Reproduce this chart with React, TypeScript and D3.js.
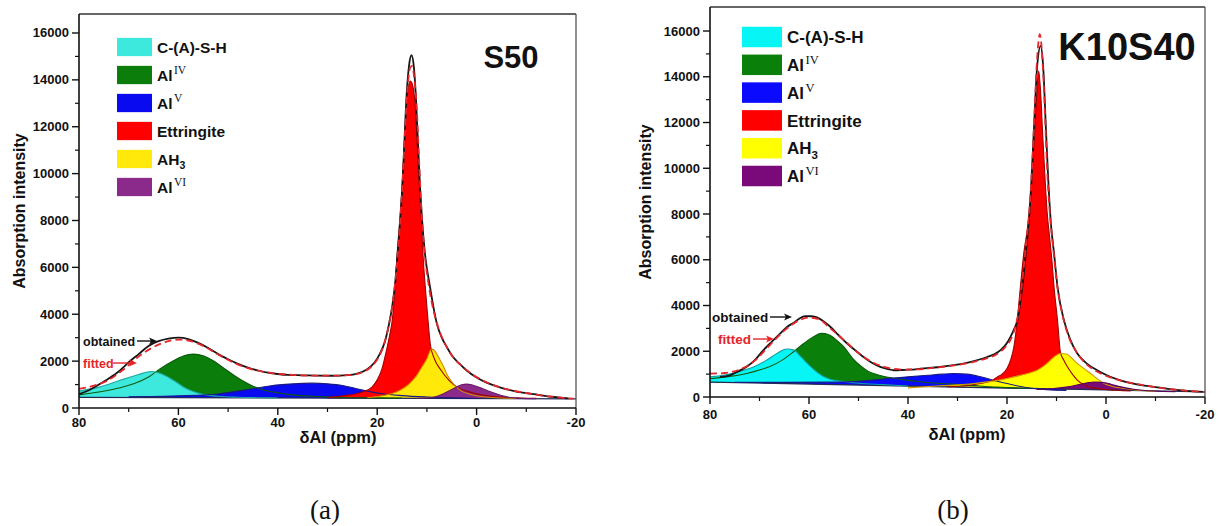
import React from 'react';
import * as d3 from 'd3';

type Pt = [number, number];

const xTicks = [80, 60, 40, 20, 0, -20];
const xMinor = [70, 50, 30, 10, -10];
const yTicks = [0, 2000, 4000, 6000, 8000, 10000, 12000, 14000, 16000];
const yMinor = [1000, 3000, 5000, 7000, 9000, 11000, 13000, 15000];
const legendNames = ['C-(A)-S-H', 'Al', 'Al', 'Ettringite', 'AH', 'Al'];
const legendSup = ['', 'IV', 'V', '', '', 'VI'];
const legendSub = ['', '', '', '', '3', ''];

// ---- S50 (a) : [ppm, intensity]
const s50Baseline: Pt[] = [[80, 450], [-20, 390]];
const s50CSH: Pt[] = [[80, 720], [76, 890], [72, 1160], [68, 1430], [65.5, 1560], [63, 1420], [61, 1180], [59, 900], [57, 700], [55, 580], [52, 500], [48, 460], [44, 440], [40, 426]];
const s50AlIV: Pt[] = [[80, 560], [76, 680], [72, 850], [69, 1030], [66, 1320], [63.5, 1700], [61, 2020], [59, 2220], [57, 2300], [55, 2230], [53, 2020], [51, 1720], [49, 1420], [47, 1150], [45, 930], [43, 780], [40, 650], [37, 560], [33, 500], [28, 460], [22, 430], [15, 420]];
const s50AlV: Pt[] = [[70, 480], [60, 520], [52, 600], [48, 720], [45, 820], [42, 930], [38.5, 1010], [35, 1050], [33, 1060], [30, 1030], [27, 960], [24.5, 840], [22, 720], [19, 610], [15, 530], [10, 470], [5, 430], [0, 405]];
const s50Ettringite: Pt[] = [[30, 450], [26, 540], [23, 680], [21, 900], [20, 1200], [19, 1700], [18.2, 2400], [17.5, 3100], [17, 3700], [16.4, 5100], [16, 6500], [15.4, 8000], [14.9, 9800], [14.6, 11000], [14.2, 12600], [13.8, 13600], [13.3, 13950], [12.8, 13700], [12.3, 12700], [11.9, 11000], [11.5, 9300], [11.1, 8000], [10.8, 6600], [10.3, 5100], [9.8, 3800], [9.3, 2700], [8.5, 2100], [7.3, 1650], [5.5, 1170], [4, 900], [2, 720], [-1.5, 540], [-6, 450], [-12, 410]];
const s50AH3: Pt[] = [[22, 440], [19, 520], [17, 620], [15.4, 760], [14, 950], [13, 1150], [12, 1400], [11, 1750], [10, 2100], [9.2, 2480], [8.8, 2500], [8, 2300], [7.3, 2030], [6.5, 1700], [6, 1450], [5, 1120], [4, 880], [3, 720], [1.5, 600], [0, 520], [-3, 450], [-8, 410]];
const s50AlVI: Pt[] = [[12, 410], [9, 450], [7, 580], [5.5, 740], [4, 900], [3, 990], [2, 1020], [1, 990], [-0.5, 880], [-2, 760], [-3.5, 640], [-5, 530], [-6.5, 460], [-9, 410], [-12, 398]];
const s50Obtained: Pt[] = [[80, 590], [78, 760], [76, 1000], [74, 1260], [72, 1560], [70, 1950], [68, 2300], [66, 2650], [64, 2850], [62, 2960], [60, 3000], [58, 2940], [56, 2780], [54, 2560], [52, 2300], [50, 2080], [48, 1880], [46, 1720], [44, 1600], [42, 1510], [40, 1450], [38, 1410], [35, 1395], [32, 1380], [29, 1375], [26, 1400], [24, 1470], [22, 1650], [20.5, 1950], [19.5, 2300], [18.5, 2800], [17.7, 3500], [17, 4300], [16.4, 5300], [16, 6300], [15.4, 8000], [15, 9200], [14.6, 11000], [14.1, 13300], [13.6, 14600], [13.1, 15050], [12.6, 14500], [12.2, 13200], [11.8, 11300], [11.4, 9500], [11, 8100], [10.4, 6600], [9.4, 5200], [8.5, 4100], [8, 3600], [7, 3000], [6, 2600], [5, 2250], [3.5, 1900], [2, 1600], [0, 1300], [-2, 1080], [-5, 860], [-8, 700], [-11.5, 590], [-15, 480], [-18.5, 410]];
const s50Fitted: Pt[] = [[80, 820], [77, 950], [74, 1200], [71, 1650], [68, 2200], [65, 2600], [62, 2850], [60, 2920], [58, 2880], [55, 2650], [52, 2280], [49, 1950], [46, 1700], [43, 1550], [40, 1460], [36, 1400], [32, 1380], [28, 1380], [25, 1420], [23, 1520], [21, 1800], [19.5, 2250], [18.5, 2800], [17.7, 3500], [17, 4300], [16.4, 5300], [15.9, 6400], [15.4, 7900], [14.9, 9600], [14.4, 11800], [13.9, 13600], [13.4, 14500], [13, 14600], [12.5, 14000], [12, 12600], [11.6, 10700], [11.1, 8400], [10.5, 6700], [9.6, 5200], [8.6, 4100], [7.5, 3300], [6, 2600], [4.5, 2100], [3, 1800], [1, 1450], [-1, 1200], [-4, 930], [-7, 760], [-10, 640], [-14, 510], [-18, 420], [-19.5, 400]];

// ---- K10S40 (b)
const k10Baseline: Pt[] = [[80, 650], [-20, 220]];
const k10CSH: Pt[] = [[80, 880], [77, 960], [74, 1120], [71, 1330], [68.5, 1620], [66.5, 1900], [64.5, 2100], [63, 2050], [61.8, 1800], [60.5, 1500], [59, 1200], [57.5, 950], [56, 800], [53, 680], [50, 600], [45, 540], [40, 480]];
const k10AlIV: Pt[] = [[80, 800], [76, 900], [72.6, 1030], [70, 1180], [67.9, 1330], [65.5, 1600], [63.1, 1980], [61, 2350], [59, 2650], [57.5, 2780], [56, 2720], [54.5, 2500], [53, 2200], [51, 1650], [49.5, 1350], [48, 1120], [46, 960], [44, 860], [41, 760], [38, 680], [34, 600], [28, 520], [22, 430], [15, 370]];
const k10AlV: Pt[] = [[75, 640], [65, 640], [55, 650], [50, 690], [46, 760], [43, 830], [40, 880], [36, 950], [33, 1000], [30.8, 1026], [28, 1000], [26, 920], [24, 810], [22, 690], [20, 590], [17.5, 470], [15, 380], [12, 320], [8, 290]];
const k10Ettringite: Pt[] = [[32, 440], [28, 500], [25.4, 590], [23, 720], [22, 870], [21, 1000], [20, 1250], [19.3, 1600], [18.6, 2200], [18, 3200], [17.3, 4800], [16.6, 6300], [15.9, 7300], [15.4, 8200], [14.9, 9900], [14.4, 11600], [14, 13200], [13.6, 14250], [13.2, 13300], [12.8, 11500], [12.3, 9500], [11.9, 8100], [11.4, 7000], [10.9, 5900], [10.5, 4820], [9.8, 3360], [9.2, 1950], [8.5, 1600], [7.8, 1320], [6.8, 1000], [5.8, 740], [4.5, 540], [3, 420], [0, 330], [-5, 260]];
const k10AH3: Pt[] = [[40, 400], [35, 470], [30.8, 520], [27, 580], [24, 660], [21, 760], [18.6, 880], [16, 1020], [13.9, 1170], [12, 1450], [10.5, 1750], [9.2, 1900], [8, 1880], [6.8, 1680], [5.8, 1470], [4.5, 1250], [3.1, 1030], [1.8, 800], [0.4, 590], [-1.5, 450], [-3, 390], [-6.3, 300], [-10, 250]];
const k10AlVI: Pt[] = [[14, 330], [11, 360], [8.5, 420], [7, 470], [5.1, 560], [3.5, 630], [2.4, 658], [1, 640], [-0.5, 590], [-1.6, 520], [-3.5, 420], [-5.6, 340], [-9.7, 260], [-14, 230]];
const k10Obtained: Pt[] = [[78, 880], [76, 950], [74.5, 1100], [72.6, 1320], [71, 1600], [69.2, 2050], [67.5, 2420], [65.8, 2780], [64.5, 3050], [63.1, 3250], [62, 3420], [60.8, 3540], [59.5, 3530], [58.4, 3480], [57, 3300], [55.7, 3070], [54, 2700], [52.3, 2340], [50.6, 2030], [49, 1750], [47.3, 1500], [45.6, 1320], [44, 1220], [42.9, 1170], [40.5, 1190], [38.9, 1200], [37.5, 1240], [34, 1300], [30.8, 1390], [27.5, 1530], [24, 1750], [22.5, 1880], [21.3, 2050], [20.2, 2300], [19.3, 2630], [18.5, 3000], [17.9, 3360], [17.4, 4000], [16.9, 4820], [16.2, 6290], [15.6, 7700], [15.1, 9300], [14.6, 11550], [13.9, 14470], [13.2, 15350], [12.7, 14470], [12.1, 11550], [11.6, 9200], [11.1, 7500], [10.5, 6290], [9.8, 4820], [8.5, 3360], [7.2, 2500], [5.8, 1900], [3.8, 1450], [1.8, 1170], [-0.5, 920], [-2.9, 730], [-6, 560], [-9.7, 440], [-13, 340], [-16.4, 265], [-19.8, 220]];
const k10Fitted: Pt[] = [[80, 1020], [77, 1050], [74, 1200], [71, 1580], [68, 2250], [65, 2900], [62, 3350], [60, 3470], [58, 3400], [55.7, 3000], [53, 2500], [50, 1920], [47, 1500], [44, 1270], [41, 1200], [38, 1210], [35, 1270], [31, 1370], [27.5, 1500], [24, 1700], [22, 1880], [20.5, 2150], [19.3, 2500], [18.4, 3000], [17.7, 3700], [17.1, 4700], [16.5, 5900], [15.9, 7200], [15.3, 8700], [14.8, 10600], [14.4, 12600], [14, 14500], [13.6, 15600], [13.4, 15860], [13.1, 15500], [12.7, 14200], [12.3, 12200], [11.9, 10000], [11.4, 8200], [10.7, 6600], [10, 5100], [9, 3800], [7.8, 2800], [6.2, 2050], [4.5, 1550], [2.5, 1200], [0, 930], [-3, 720], [-6.5, 560], [-10, 430], [-14, 320], [-17, 260], [-20, 215]];

const sans = '"Liberation Sans", Arial, sans-serif';
const serif = '"Liberation Serif", "Times New Roman", serif';

// fill order: Al IV, C-(A)-S-H, Al V, Ettringite, AH3, Al VI
const drawOrder = [1, 0, 2, 3, 4, 5];

const panels = [
  {
    id: 'a', title: 'S50', caption: '(a)',
    left: 79, right: 576, top: 14, bottom: 408, yTop: 16810, tickGap: 19,
    baseline: s50Baseline,
    comps: [s50CSH, s50AlIV, s50AlV, s50Ettringite, s50AH3, s50AlVI],
    obtained: s50Obtained, fitted: s50Fitted,
    fills: ['#3de8dc', '#0b7d0b', '#0a0af0', '#ff0000', '#ffe90a', '#8b2a8b'],
    strokes: ['#20a8a0', '#0a5a0a', '#1a1a80', '#a00000', '#d08a00', '#6a1a6a'],
    legend: { x: 117, w: 35, h: 18.3, y0: 47, pitch: 28, tx: 157, fs: 15.5 },
    titleX: 511, titleY: 68, titleFs: 31,
    obtainedAnn: { x: 83, y: 341, fs: 12.5, ax0: 137, ax1: 157 },
    fittedAnn: { x: 83, y: 363, fs: 12.5, ax0: 113, ax1: 137 },
    yLabelX: 19, xLabelX: 338, xLabelY: 443, captionX: 325,
  },
  {
    id: 'b', title: 'K10S40', caption: '(b)',
    left: 710, right: 1205, top: 7, bottom: 397, yTop: 17050, tickGap: 22,
    baseline: k10Baseline,
    comps: [k10CSH, k10AlIV, k10AlV, k10Ettringite, k10AH3, k10AlVI],
    obtained: k10Obtained, fitted: k10Fitted,
    fills: ['#08f5f5', '#0a800a', '#0a0aff', '#ff0000', '#ffff00', '#7a0a7a'],
    strokes: ['#10a0a0', '#0a5a0a', '#1a1a80', '#a00000', '#d09a00', '#5a005a'],
    legend: { x: 742, w: 40, h: 20.5, y0: 37, pitch: 27.8, tx: 787, fs: 17 },
    titleX: 1127, titleY: 60, titleFs: 38,
    obtainedAnn: { x: 712, y: 317, fs: 13.5, ax0: 770, ax1: 792 },
    fittedAnn: { x: 718, y: 339, fs: 13.5, ax0: 753, ax1: 774 },
    yLabelX: 645, xLabelX: 967, xLabelY: 440, captionX: 953,
  },
];

function Arrow({ x0, x1, y, color }: { x0: number; x1: number; y: number; color: string }) {
  return (
    <g>
      <line x1={x0} x2={x1 - 5} y1={y} y2={y} stroke={color} strokeWidth={1.4} />
      <path d={`M${x1},${y} L${x1 - 8},${y - 3.5} L${x1 - 6},${y} L${x1 - 8},${y + 3.5} Z`} fill={color} />
    </g>
  );
}

function Panel({ p }: { p: any }) {
  const x = d3.scaleLinear().domain([80, -20]).range([p.left, p.right]);
  const y = d3.scaleLinear().domain([0, p.yTop]).range([p.bottom, p.top]);
  const base = d3.scaleLinear()
    .domain([p.baseline[0][0], p.baseline[1][0]])
    .range([p.baseline[0][1], p.baseline[1][1]]);

  const area = d3.area<Pt>()
    .x(d => x(d[0]))
    .y0(d => y(base(d[0])))
    .y1(d => y(d[1]))
    .curve(d3.curveMonotoneX);
  const line = d3.line<Pt>()
    .x(d => x(d[0]))
    .y(d => y(d[1]))
    .curve(d3.curveMonotoneX);

  const lg = p.legend;
  const midY = (p.top + p.bottom) / 2;

  return (
    <g fontFamily={sans} fontWeight="bold">
      {/* component fills */}
      {drawOrder.map(i => (
        <path key={'f' + i} d={area(p.comps[i]) || ''} fill={p.fills[i]} stroke="none" />
      ))}
      {/* baseline */}
      <line x1={x(80)} x2={x(-20)} y1={y(base(80))} y2={y(base(-20))} stroke="#222a55" strokeWidth={1.3} />
      {/* component outlines */}
      {drawOrder.map(i => (
        <path key={'s' + i} d={line(p.comps[i]) || ''} fill="none" stroke={p.strokes[i]} strokeWidth={1.1} />
      ))}
      {/* measured and fitted spectra */}
      <path d={line(p.obtained) || ''} fill="none" stroke="#151515" strokeWidth={1.8} />
      <path d={line(p.fitted) || ''} fill="none" stroke="#e5262a" strokeWidth={1.8} strokeDasharray="7,4" />

      {/* frame */}
      <line x1={p.left} x2={p.right} y1={p.top} y2={p.top} stroke="#333" strokeWidth={1.3} />
      <line x1={p.right} x2={p.right} y1={p.top} y2={p.bottom} stroke="#555" strokeWidth={1.3} />
      <line x1={p.left} x2={p.left} y1={p.top} y2={p.bottom} stroke="#111" strokeWidth={1.6} />
      <line x1={p.left} x2={p.right} y1={p.bottom} y2={p.bottom} stroke="#111" strokeWidth={1.6} />

      {/* y axis */}
      {yTicks.map(t => (
        <g key={'y' + t}>
          <line x1={p.left - 7} x2={p.left} y1={y(t)} y2={y(t)} stroke="#111" strokeWidth={1.4} />
          <text x={p.left - 10} y={y(t) + 4.5} textAnchor="end" fontSize={13} fill="#111">{t}</text>
        </g>
      ))}
      {yMinor.map(t => (
        <line key={'ym' + t} x1={p.left - 4} x2={p.left} y1={y(t)} y2={y(t)} stroke="#111" strokeWidth={1.2} />
      ))}
      {/* x axis */}
      {xTicks.map(t => (
        <g key={'x' + t}>
          <line x1={x(t)} x2={x(t)} y1={p.bottom} y2={p.bottom + 7} stroke="#111" strokeWidth={1.4} />
          <text x={x(t)} y={p.bottom + p.tickGap} textAnchor="middle" fontSize={13} fill="#111">{t}</text>
        </g>
      ))}
      {xMinor.map(t => (
        <line key={'xm' + t} x1={x(t)} x2={x(t)} y1={p.bottom} y2={p.bottom + 4} stroke="#111" strokeWidth={1.2} />
      ))}

      <text x={p.xLabelX} y={p.xLabelY} textAnchor="middle" fontSize={16.5} fill="#111">δAl (ppm)</text>
      <text transform={`translate(${p.yLabelX},${midY}) rotate(-90)`} textAnchor="middle" dy="0.35em" fontSize={16} fill="#111">
        Absorption intensity
      </text>

      {/* legend */}
      {legendNames.map((name, i) => {
        const cy = lg.y0 + i * lg.pitch;
        return (
          <g key={'l' + i}>
            <rect x={lg.x} y={cy - lg.h / 2} width={lg.w} height={lg.h} fill={p.fills[i]} />
            <text x={lg.tx} y={cy + lg.fs * 0.36} fontSize={lg.fs} fill="#111">
              {name}
              {legendSup[i] && (
                <tspan fontFamily={serif} fontWeight="normal" fontSize={lg.fs * 0.74} dx={1.5} dy={-lg.fs * 0.42}>{legendSup[i]}</tspan>
              )}
              {legendSub[i] && (
                <tspan fontSize={lg.fs * 0.68} dy={lg.fs * 0.3}>{legendSub[i]}</tspan>
              )}
            </text>
          </g>
        );
      })}

      <text x={p.titleX} y={p.titleY} textAnchor="middle" fontSize={p.titleFs} fill="#111">{p.title}</text>

      {/* annotations */}
      <text x={p.obtainedAnn.x} y={p.obtainedAnn.y + p.obtainedAnn.fs * 0.36} fontSize={p.obtainedAnn.fs} fill="#111">obtained</text>
      <Arrow x0={p.obtainedAnn.ax0} x1={p.obtainedAnn.ax1} y={p.obtainedAnn.y} color="#111" />
      <text x={p.fittedAnn.x} y={p.fittedAnn.y + p.fittedAnn.fs * 0.36} fontSize={p.fittedAnn.fs} fill="#e5262a">fitted</text>
      <Arrow x0={p.fittedAnn.ax0} x1={p.fittedAnn.ax1} y={p.fittedAnn.y} color="#e5262a" />

      <text x={p.captionX} y={519} textAnchor="middle" fontFamily={serif} fontWeight="normal" fontSize={27} fill="#111">{p.caption}</text>
    </g>
  );
}

export default function App() {
  return (
    <svg width={1219} height={526} style={{ position: 'absolute', left: 0, top: 0, background: '#fff' }}>
      <rect width={1219} height={526} fill="#fff" />
      {panels.map(p => <Panel key={p.id} p={p} />)}
    </svg>
  );
}
